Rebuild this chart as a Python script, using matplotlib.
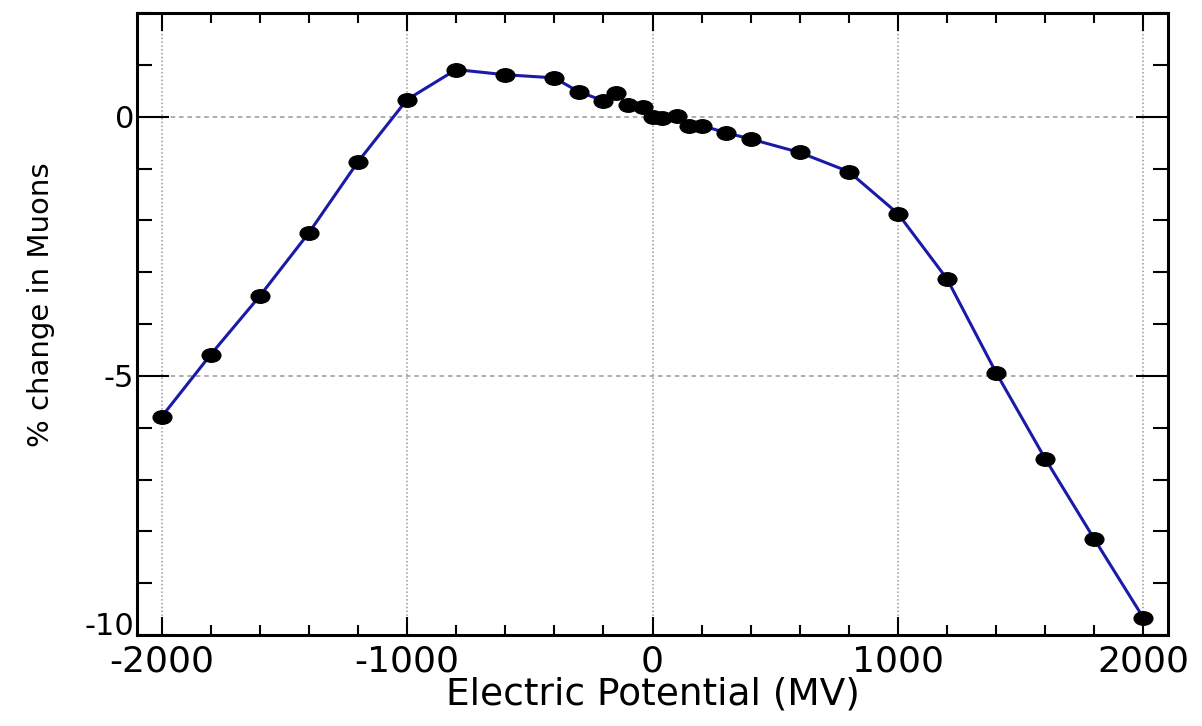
import numpy as np
import matplotlib
matplotlib.use("Agg")
import matplotlib.pyplot as plt
from matplotlib.path import Path
from matplotlib.ticker import MultipleLocator

plt.rcParams['font.family'] = ['DejaVu Sans']

# electric potential (MV) and % change in muons
potential = [-2000, -1800, -1600, -1400, -1200, -1000, -800, -600, -400, -300,
             -200, -150, -100, -40, 0, 40, 100, 150, 200, 300, 400, 600,
             800, 1000, 1200, 1400, 1600, 1800, 2000]
muon_change = [-5.79, -4.59, -3.46, -2.24, -0.87, 0.33, 0.91, 0.81, 0.75, 0.48,
               0.31, 0.46, 0.23, 0.19, 0.00, -0.02, 0.02, -0.17, -0.17, -0.31, -0.43, -0.69,
               -1.06, -1.87, -3.13, -4.94, -6.60, -8.15, -9.67]

xticks = [-2000, -1000, 0, 1000, 2000]
yticks = [-10, -5, 0]

# squashed dot like in the original picture
circ = Path.unit_circle()
ell = Path(circ.vertices * np.array([1.0, 0.72]), circ.codes)

fig = plt.figure(figsize=(12.02, 7.26), dpi=100)
ax = fig.add_axes([0.114, 0.1253, 0.8577, 0.8567])

ax.plot(potential, muon_change, color='#1a1aa8', lw=2.2, zorder=3)
ax.plot(potential, muon_change, ls='none', marker=ell, ms=13.5,
        mfc='black', mec='black', zorder=4)

ax.set_xlim(-2100, 2100)
ax.set_ylim(-10, 2)
ax.set_xticks(xticks)
ax.set_yticks(yticks)
ax.set_xticklabels([str(v) for v in xticks], fontsize=26)
ax.set_yticklabels([str(v) for v in yticks], fontsize=22)
ax.xaxis.set_minor_locator(MultipleLocator(200))
ax.yaxis.set_minor_locator(MultipleLocator(1))

ax.tick_params(which='both', direction='in', top=True, right=True, width=1.5)
ax.tick_params(axis='x', which='major', length=13, pad=7)
ax.tick_params(axis='x', which='minor', length=7)
ax.tick_params(axis='y', which='major', length=23, pad=2)
ax.tick_params(axis='y', which='minor', length=11)

# lift the bottom "-10" a little so it sits clear of "-2000"
ax.get_yticklabels()[0].set_va('baseline')

for sp in ax.spines.values():
    sp.set_linewidth(2.2)

#dotted grid on major ticks only
ax.xaxis.grid(True, which='major', color='#999999', ls=(0, (1, 1.5)), lw=1.1)
ax.yaxis.grid(True, which='major', color='#999999', ls=(0, (3, 2.5)), lw=1.1)
ax.set_axisbelow(True)

ax.set_xlabel("Electric Potential (MV)", fontsize=27)
ax.set_ylabel("% change in Muons", fontsize=21)
ax.xaxis.set_label_coords(0.5, -0.066)
ax.yaxis.set_label_coords(-0.080, 0.531)

fig.savefig("out.png", dpi=100)
